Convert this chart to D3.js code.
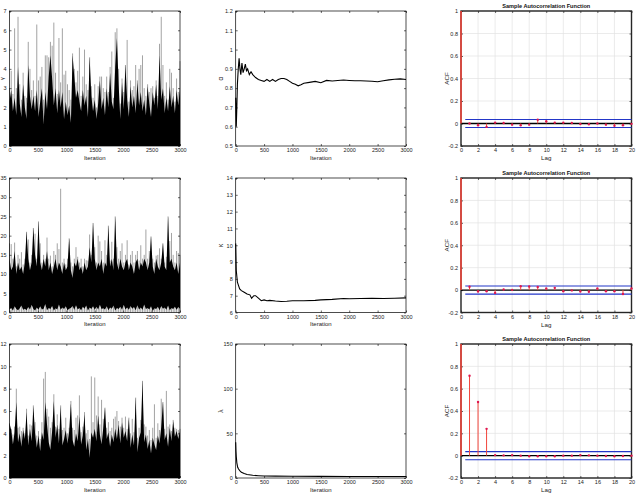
<!DOCTYPE html>
<html><head><meta charset="utf-8">
<script src="https://cdn.jsdelivr.net/npm/d3@7"></script>
<style>
body{margin:0;background:#fff}
svg{display:block}
text{font-family:"Liberation Sans",Arial,Helvetica,sans-serif}
</style>
</head><body>
<svg id="chart" width="640" height="495"></svg>
<script>
// ---------- DATA ----------
// trace samples every 30 iterations (0..3000)
const traceIterations = [0,30,60,90,120,150,180,210,240,270,300,330,360,390,420,450,480,510,540,570,600,630,660,690,720,750,780,810,840,870,900,930,960,990,1020,1050,1080,1110,1140,1170,1200,1230,1260,1290,1320,1350,1380,1410,1440,1470,1500,1530,1560,1590,1620,1650,1680,1710,1740,1770,1800,1830,1860,1890,1920,1950,1980,2010,2040,2070,2100,2130,2160,2190,2220,2250,2280,2310,2340,2370,2400,2430,2460,2490,2520,2550,2580,2610,2640,2670,2700,2730,2760,2790,2820,2850,2880,2910,2940,2970,3000];

const gammaBody = [2.3,2.9,1.8,2.5,1.6,4.1,2.2,1.5,3.2,2.0, 1.4,4.2,2.6,1.9,2.6,1.8,2.9,1.5,2.3,3.0, 1.1,2.8,1.9,3.6,4.7,3.5,2.1,3.0,1.7,2.9, 2.0,2.8,1.4,2.3,1.6,2.1,1.2,4.7,3.6,2.5, 2.9,2.3,1.8,2.9,2.1,2.6,1.5,4.6,2.6,1.8, 2.4,1.4,2.2,3.4,1.9,2.5,1.6,3.0,2.0,3.8, 2.3,1.9,4.1,5.6,3.2,1.4,3.3,1.9,4.2,2.4, 1.5,3.1,2.0,2.6,1.7,3.3,2.1,2.8,1.8,2.4, 1.6,3.1,2.2,1.5,2.8,2.1,3.2,1.9,4.7,2.4, 3.0,1.7,2.5,1.8,3.1,2.0,2.6,1.7,2.9,2.1, 3.0];
const gammaPeak = [3.0,3.9,2.7,6.1,3.0,6.7,3.2,2.4,3.8,2.6, 2.5,5.4,4.0,2.9,3.4,2.6,6.3,3.4,3.6,4.1, 2.4,4.7,4.7,4.6,5.4,5.2,6.4,3.8,2.7,5.6, 3.3,6.1,3.7,3.9,3.2,2.9,2.4,4.8,4.0,3.3, 3.9,5.1,2.6,3.6,5.0,3.2,2.9,4.6,3.1,2.5, 3.2,2.0,3.1,3.6,3.6,3.0,2.8,3.6,2.8,4.1, 4.9,2.5,5.9,6.1,4.0,2.2,3.5,2.8,4.2,5.5, 2.3,3.4,2.9,3.1,4.2,3.4,4.0,4.2,4.7,3.0, 2.6,3.2,2.8,3.0,3.1,2.5,3.4,2.6,5.3,6.7, 4.2,2.6,3.3,2.4,4.0,3.8,3.0,2.3,3.5,2.8, 4.4];
const gammaFloor = [0,0,0,0,0,0,0,0,0,0, 0,0,0,0,0,0,0,0,0,0, 0,0,0,0,0,0,0,0,0,0, 0,0,0,0,0,0,0,0,0,0, 0,0,0,0,0,0,0,0,0,0, 0,0,0,0,0,0,0,0,0,0, 0,0,0,0,0,0,0,0,0,0, 0,0,0,0,0,0,0,0,0,0, 0,0,0,0,0,0,0,0,0,0, 0,0,0,0,0,0,0,0,0,0, 0];

const kappaBody = [14,11,12,16,10,13,11,12,10,13, 21,14,11,13,22,15,12,23.7,13,11, 14,12,16,11,13,10,12,14,11,13, 12,10,13,11,12,19.3,11,9,13,12, 14,11,12,10,13,11,12,17,13,23.3, 14,11,13,12,14,10,13,12,22.6,12, 14,11,25,13,11,14,12,11,13,14, 11,13,12,10,13,14,11,13,12,14, 13,11,13,19.8,12,10,14,12,11,13, 18,12,11,25,13,14,12,11,13,10, 13];
const kappaPeak = [18,17.8,14,18.2,12,15,14,15.7,12.5,14, 21,19,13,15,22,20.5,14,23.7,18,13, 15,14,19.5,14,14.8,12,16,15,18,16.5, 32.2,13,14,12.5,14,19.3,13,12,14,17, 14.5,13,14,12,14,13.6,13.5,20.3,15,23.3, 17,13,20,18.5,16,13,18.8,15,22.6,13.5, 18.4,14,25,17,14,16,18,13,15,18.8, 12.5,15,16,13,15,16,13.5,17.5,14,15, 21.6,14,16,19.8,14,13,14.8,15,16.7,14, 18,13,14.5,25,18.6,20.7,15,13,16,15.5, 15];
const kappaFloor = [0.8,1.2,0.5,1.6,0.9,0.6,1.1,1.8,0.7,1.0, 0.6,1.4,0.8,2.0,0.9,0.5,1.3,0.7,1.6,0.8, 1.0,2.2,0.6,1.2,0.9,1.7,0.5,1.1,0.8,2.1, 0.7,1.3,0.9,1.6,0.6,1.0,1.2,1.7,0.7,1.9, 0.8,1.2,0.6,1.5,1.0,1.8,0.5,1.3,0.9,1.6, 0.7,1.5,0.8,2.0,0.9,1.1,0.8,1.6,0.6,1.3, 1.0,1.8,0.5,1.2,0.9,1.5,0.7,2.0,0.8,1.3, 0.7,1.7,1.0,1.4,0.6,1.9,0.8,1.3,0.7,2.1, 0.9,1.2,0.8,1.6,0.4,1.1,0.9,1.5,0.6,1.7, 1.0,1.3,0.7,1.8,0.6,1.2,0.9,1.5,0.7,1.4, 1.0];

const lambdaBody = [4.9,4.3,3.0,4.1,6.8,3.2,4.0,2.8,4.3,3.5, 5.9,2.9,4.4,3.3,6.4,4.0,2.7,3.8,2.4,4.1, 3.4,6.8,4.8,3.2,2.5,4.2,6.9,3.6,4.8,3.1, 6.4,2.9,3.5,4.3,3.1,4.2,6.7,3.4,2.8,4.0, 3.3,5.5,3.0,3.8,5.7,2.5,3.5,1.8,4.1,3.6, 4.4,3.3,5.6,3.9,3.0,4.5,6.3,3.5,4.1,2.8, 3.9,3.2,4.4,3.5,4.8,3.1,5.0,3.6,4.2,3.3, 5.3,2.7,3.9,2.9,7.2,2.3,3.6,4.1,8.7,3.2, 3.9,2.6,3.4,2.2,3.6,3.0,2.5,3.8,3.1,4.6, 6.8,3.4,4.0,2.8,4.5,3.3,5.1,3.7,4.2,3.5, 4.2];
const lambdaPeak = [4.9,4.4,3.9,4.6,8.0,4.5,4.6,4.2,4.5,4.0, 6.2,3.8,4.8,4.7,6.5,5.0,3.8,4.2,3.5,5.0, 8.9,9.5,6.2,5.5,4.5,5.0,7.5,4.6,5.7,4.4, 6.5,4.3,4.5,5.4,4.0,4.5,6.9,4.5,4.3,5.4, 5.6,7.4,4.1,4.6,5.9,4.0,4.3,3.5,9.1,5.0, 9.0,5.6,7.3,4.8,7.0,5.3,6.3,4.5,5.0,4.2, 4.5,5.3,5.5,6.0,5.1,4.6,5.4,4.5,5.5,4.4, 5.4,4.0,5.3,4.1,7.2,3.6,4.5,5.2,8.7,4.8, 4.6,3.8,4.3,3.4,4.5,6.6,3.6,4.9,4.3,7.1, 6.8,4.4,7.8,4.6,4.8,4.2,5.2,4.5,4.4,4.3, 4.4];
const lambdaFloor = gammaFloor;

// running means
const alphaIter = [0,10,20,30,45,60,75,90,110,130,150,170,190,210,240,270,300,350,400,450,500,550,600,650,700,750,800,850,900,950,1000,1050,1100,1150,1200,1300,1400,1500,1600,1700,1800,1900,2000,2100,2200,2300,2400,2500,2600,2700,2800,2900,3000];
const alphaMean = [0.75,0.6,0.7,0.82,0.9,0.955,0.9,0.87,0.93,0.88,0.9,0.925,0.89,0.9,0.87,0.885,0.87,0.855,0.845,0.84,0.835,0.845,0.835,0.845,0.835,0.845,0.85,0.85,0.845,0.835,0.825,0.82,0.812,0.818,0.825,0.83,0.835,0.828,0.84,0.837,0.84,0.842,0.84,0.838,0.838,0.837,0.836,0.833,0.838,0.843,0.846,0.848,0.845];

const kappaIter = [0,10,30,50,70,100,150,200,250,280,320,350,400,450,500,550,600,700,800,900,1000,1200,1400,1500,1700,1900,2000,2200,2400,2600,2800,3000];
const kappaMean = [10.1,8.5,7.8,7.6,7.4,7.3,7.2,7.1,7.05,6.85,7.0,7.0,6.85,6.7,6.75,6.7,6.72,6.68,6.65,6.67,6.7,6.7,6.72,6.75,6.78,6.83,6.82,6.83,6.85,6.83,6.85,6.87];

const lambdaIter = [0,5,10,20,35,50,75,100,150,200,300,400,500,700,1000,1500,2000,2500,3000];
const lambdaMean = [40,30,24,17,12,10,8,6.5,5,4,3,2.6,2.3,2.1,1.9,1.8,1.75,1.7,1.7];

// sample autocorrelation, lags 0..20
const acfLags = [0,1,2,3,4,5,6,7,8,9,10,11,12,13,14,15,16,17,18,19,20];
const gammaAcf = [1,0.0,-0.015,-0.03,0.008,0.005,-0.01,-0.015,-0.01,0.033,0.02,0.008,0.008,0.005,-0.005,-0.006,0,-0.01,-0.02,-0.015,-0.003];
const kappaAcf = [1,0.03,-0.012,-0.01,-0.025,0.005,0.002,0.035,0.032,0.028,0.015,0.02,-0.01,-0.003,-0.012,-0.015,0.015,-0.01,-0.01,-0.035,0.015];
const lambdaAcf = [1,0.716,0.48,0.24,0.005,0.003,0.005,0,-0.005,-0.005,-0.005,-0.005,0,0,0.005,0.003,0,-0.003,-0.005,-0.003,0];
const acfBound = 0.036;

// tick labels
const iterTicks = [0,500,1000,1500,2000,2500,3000];
const gammaTicks = [0,1,2,3,4,5,6,7];
const kappaTraceTicks = [0,5,10,15,20,25,30,35];
const lambdaTraceTicks = [0,2,4,6,8,10,12];
const alphaTicks = [0.5,0.6,0.7,0.8,0.9,1,1.1,1.2];
const kappaMeanTicks = [6,7,8,9,10,11,12,13,14];
const lambdaMeanTicks = [0,50,100,150];
const lagTicks = [0,2,4,6,8,10,12,14,16,18,20];
const acfTicks = [-0.2,0,0.2,0.4,0.6,0.8,1];
const acfTitle = "Sample Autocorrelation Function";

// ---------- LAYOUT ----------
const svg = d3.select("#chart");
const cols = [{l:9.5, r:180}, {l:235.7, r:406}, {l:461, r:631.5}];
const rows = [{t:11, b:146}, {t:178, b:312.5}, {t:344, b:478}];
const FS = 5.5;

function frame(g, x, y, xt, yt, boxW, boxColor) {
  const [y0, y1] = y.range();
  const [x0, x1] = x.range();
  const fmt = d => String(d);
  const style = sel => {
    sel.select(".domain").remove();
    sel.selectAll(".tick line").attr("stroke", "#000").attr("stroke-width", 0.6);
    sel.selectAll(".tick text").attr("fill", "#222").attr("font-size", FS);
  };
  g.append("g").attr("transform", `translate(0,${y0})`)
    .call(d3.axisBottom(x).tickValues(xt).tickSizeInner(-2).tickSizeOuter(0).tickPadding(2.5).tickFormat(fmt)).call(style);
  g.append("g").attr("transform", `translate(0,${y1})`)
    .call(d3.axisTop(x).tickValues(xt).tickSizeInner(-2).tickSizeOuter(0).tickFormat("")).call(style);
  g.append("g").attr("transform", `translate(${x0},0)`)
    .call(d3.axisLeft(y).tickValues(yt).tickSizeInner(-2).tickSizeOuter(0).tickPadding(3).tickFormat(fmt)).call(style);
  g.append("g").attr("transform", `translate(${x1},0)`)
    .call(d3.axisRight(y).tickValues(yt).tickSizeInner(-2).tickSizeOuter(0).tickFormat("")).call(style);
  g.append("rect").attr("x", x0).attr("y", y1).attr("width", x1 - x0).attr("height", y0 - y1)
    .attr("fill", "none").attr("stroke", boxColor).attr("stroke-width", boxW);
}

function labels(g, box, xLabel, yLabel, yX, yFs) {
  g.append("text").attr("x", (box.l + box.r) / 2).attr("y", box.b + 13.5)
    .attr("text-anchor", "middle").attr("font-size", 6).attr("fill", "#222").text(xLabel);
  if (yLabel) {
    g.append("text").attr("transform", `translate(${yX},${(box.t + box.b) / 2}) rotate(-90)`)
      .attr("text-anchor", "middle").attr("font-size", yFs).attr("fill", "#222").text(yLabel);
  }
}

function tracePanel(ci, ri, yDom, yt, body, peak, floor, yLabel) {
  const box = {l: cols[ci].l, r: cols[ci].r, t: rows[ri].t, b: rows[ri].b};
  const g = svg.append("g");
  const x = d3.scaleLinear().domain([0, 3000]).range([box.l, box.r]);
  const y = d3.scaleLinear().domain(yDom).range([box.b, box.t]);
  const pts = traceIterations.map((it, i) => ({it, body: body[i], peak: peak[i], floor: floor[i]}));
  g.append("g").selectAll("line").data(pts).join("line")
    .attr("x1", d => x(d.it)).attr("x2", d => x(d.it))
    .attr("y1", y(0)).attr("y2", d => y(d.peak))
    .attr("stroke", "#a3a3a3").attr("stroke-width", 1);
  g.append("path").datum(pts)
    .attr("d", d3.area().x(d => x(d.it)).y0(d => y(d.floor)).y1(d => y(d.body)))
    .attr("fill", "#000");
  frame(g, x, y, iterTicks, yt, 0.7, "#000");
  labels(g, box, "Iteration", yLabel, 4.2, 5.5);
}

function meanPanel(ci, ri, yDom, yt, iters, means, yLabel) {
  const box = {l: cols[ci].l, r: cols[ci].r, t: rows[ri].t, b: rows[ri].b};
  const g = svg.append("g");
  const x = d3.scaleLinear().domain([0, 3000]).range([box.l, box.r]);
  const y = d3.scaleLinear().domain(yDom).range([box.b, box.t]);
  g.append("path").datum(iters.map((it, i) => [it, means[i]]))
    .attr("d", d3.line().x(d => x(d[0])).y(d => y(d[1])))
    .attr("fill", "none").attr("stroke", "#000").attr("stroke-width", 1.1);
  frame(g, x, y, iterTicks, yt, 0.7, "#000");
  labels(g, box, "Iteration", yLabel, box.l - 12.5, 6.5);
}

function acfPanel(ri, acf) {
  const box = {l: cols[2].l, r: cols[2].r, t: rows[ri].t, b: rows[ri].b};
  const g = svg.append("g");
  const x = d3.scaleLinear().domain([0, 20]).range([box.l, box.r]);
  const y = d3.scaleLinear().domain([-0.2, 1]).range([box.b, box.t]);
  // grid
  g.append("g").selectAll("line").data(lagTicks).join("line")
    .attr("x1", d => x(d)).attr("x2", d => x(d)).attr("y1", box.t).attr("y2", box.b)
    .attr("stroke", "#e3e3e3").attr("stroke-width", 0.7);
  g.append("g").selectAll("line").data(acfTicks).join("line")
    .attr("y1", d => y(d)).attr("y2", d => y(d)).attr("x1", box.l).attr("x2", box.r)
    .attr("stroke", "#e3e3e3").attr("stroke-width", 0.7);
  frame(g, x, y, lagTicks, acfTicks, 1.4, "#262626");
  // zero line
  g.append("line").attr("x1", x(0)).attr("x2", x(20)).attr("y1", y(0)).attr("y2", y(0))
    .attr("stroke", "#000").attr("stroke-width", 1.4);
  // confidence bounds
  [acfBound, -acfBound].forEach(b => {
    g.append("line").attr("x1", x(0.5)).attr("x2", x(20)).attr("y1", y(b)).attr("y2", y(b))
      .attr("stroke", "#2336c8").attr("stroke-width", 1.1);
  });
  const pts = acfLags.map((l, i) => ({l, v: acf[i]}));
  g.append("g").selectAll("line").data(pts).join("line")
    .attr("x1", d => x(d.l)).attr("x2", d => x(d.l)).attr("y1", y(0)).attr("y2", d => y(d.v))
    .attr("stroke", "#f2463c").attr("stroke-width", d => d.l === 0 ? 1.6 : 1);
  g.append("g").selectAll("circle").data(pts.filter(d => d.l > 0)).join("circle")
    .attr("cx", d => x(d.l)).attr("cy", d => y(d.v)).attr("r", 1.2).attr("fill", "#e0184f");
  g.append("text").attr("x", (box.l + box.r) / 2).attr("y", box.t - 2.8)
    .attr("text-anchor", "middle").attr("font-size", 5.6).attr("font-weight", "bold").attr("fill", "#111").text(acfTitle);
  g.append("text").attr("x", (box.l + box.r) / 2).attr("y", box.b + 14)
    .attr("text-anchor", "middle").attr("font-size", 6.2).attr("fill", "#222").text("Lag");
  g.append("text").attr("transform", `translate(${box.l - 12.5},${(box.t + box.b) / 2}) rotate(-90)`)
    .attr("text-anchor", "middle").attr("font-size", 6.2).attr("fill", "#222").text("ACF");
}

tracePanel(0, 0, [0, 7], gammaTicks, gammaBody, gammaPeak, gammaFloor, "γ");
tracePanel(0, 1, [0, 35], kappaTraceTicks, kappaBody, kappaPeak, kappaFloor, null);
tracePanel(0, 2, [0, 12], lambdaTraceTicks, lambdaBody, lambdaPeak, lambdaFloor, null);
meanPanel(1, 0, [0.5, 1.2], alphaTicks, alphaIter, alphaMean, "α");
meanPanel(1, 1, [6, 14], kappaMeanTicks, kappaIter, kappaMean, "κ");
meanPanel(1, 2, [0, 150], lambdaMeanTicks, lambdaIter, lambdaMean, "λ");
acfPanel(0, gammaAcf);
acfPanel(1, kappaAcf);
acfPanel(2, lambdaAcf);
</script>
</body></html>
